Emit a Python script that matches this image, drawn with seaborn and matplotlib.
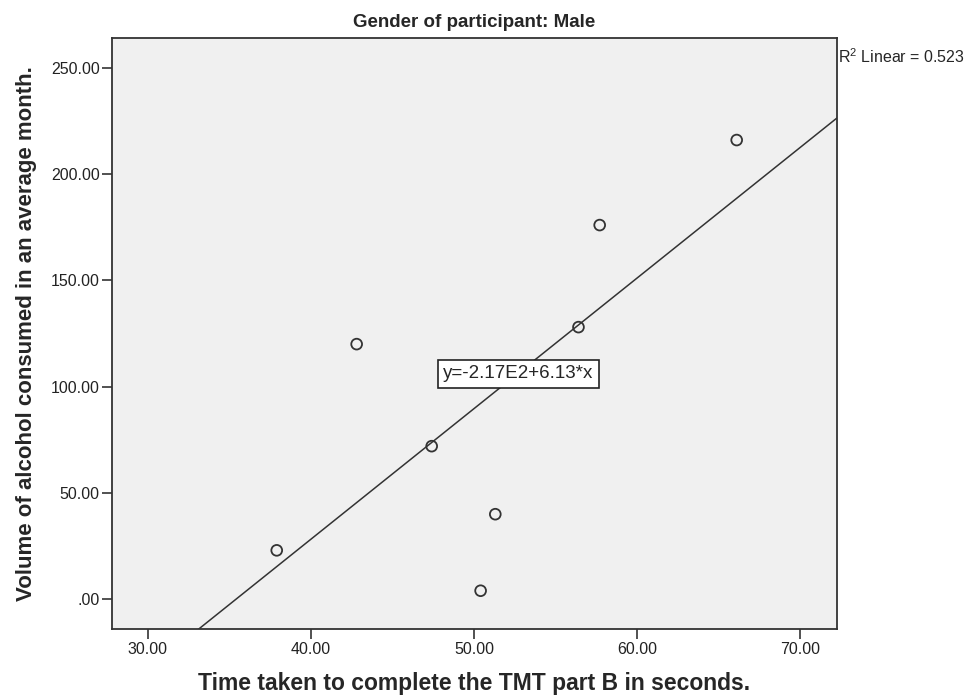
import numpy as np
import pandas as pd
import seaborn as sns
import matplotlib
matplotlib.use("Agg")
import matplotlib.pyplot as plt

# values (males)
tmt_b_seconds = [37.9, 42.8, 47.4, 50.4, 51.3, 56.4, 57.7, 66.1]
alcohol_volume = [23.0, 120.0, 72.0, 4.0, 40.0, 128.0, 176.0, 216.0]
x_ticks = [30, 40, 50, 60, 70]
y_ticks = [0, 50, 100, 150, 200, 250]
r2_text = "R$^2$ Linear = 0.523"
fit_text = "y=-2.17E2+6.13*x"

df = pd.DataFrame({"tmt": tmt_b_seconds, "alcohol": alcohol_volume})

sns.set_style("ticks")
plt.rcParams["font.family"] = ["Liberation Sans", "DejaVu Sans"]
plt.rcParams["mathtext.default"] = "regular"

fig = plt.figure(figsize=(9.75, 6.95), dpi=100)
ax = fig.add_axes([112 / 975, 1 - 629 / 695, 725 / 975, 591 / 695])
ax.set_facecolor("#f0f0f0")

# limits first, so the fitted line runs across the whole frame
ax.set_xlim(27.8, 72.25)
ax.set_ylim(-14.0, 264.0)

sns.regplot(data=df, x="tmt", y="alcohol", ax=ax, ci=None, truncate=False,
            marker="o",
            scatter_kws={"s": 60, "facecolors": "none", "color": "#333333",
                         "linewidths": 1.3, "alpha": 1, "zorder": 3},
            line_kws={"color": "#333333", "lw": 1.1})

ax.set_xlim(27.8, 72.25)
ax.set_ylim(-14.0, 264.0)
ax.set_xticks(x_ticks)
ax.set_yticks(y_ticks)
ax.set_xticklabels([f"{v:.2f}" for v in x_ticks])
ax.set_yticklabels([f"{v:.2f}".lstrip("0") if v == 0 else f"{v:.2f}" for v in y_ticks])
ax.tick_params(axis="both", length=7, width=1.2, color="#333333",
               labelsize=11.5, labelcolor="#222222", pad=2)

for sp in ax.spines.values():
    sp.set_visible(True)
    sp.set_color("#333333")
    sp.set_linewidth(1.3)

ax.set_xlabel("Time taken to complete the TMT part B in seconds.",
              fontsize=16.5, fontweight="bold", labelpad=11)
ax.set_ylabel("Volume of alcohol consumed in an average month.",
              fontsize=16, fontweight="bold", labelpad=10)
ax.set_title("Gender of participant: Male", fontsize=13.5, fontweight="bold", pad=8)

ax.text(52.7, 106, fit_text, fontsize=13.5, ha="center", va="center", zorder=4,
        bbox=dict(boxstyle="square,pad=0.28", fc="white", ec="#222222", lw=1.2))
ax.text(1.001, 0.985, r2_text, transform=ax.transAxes, fontsize=11.5,
        ha="left", va="top")

fig.savefig("out.png", dpi=100)
